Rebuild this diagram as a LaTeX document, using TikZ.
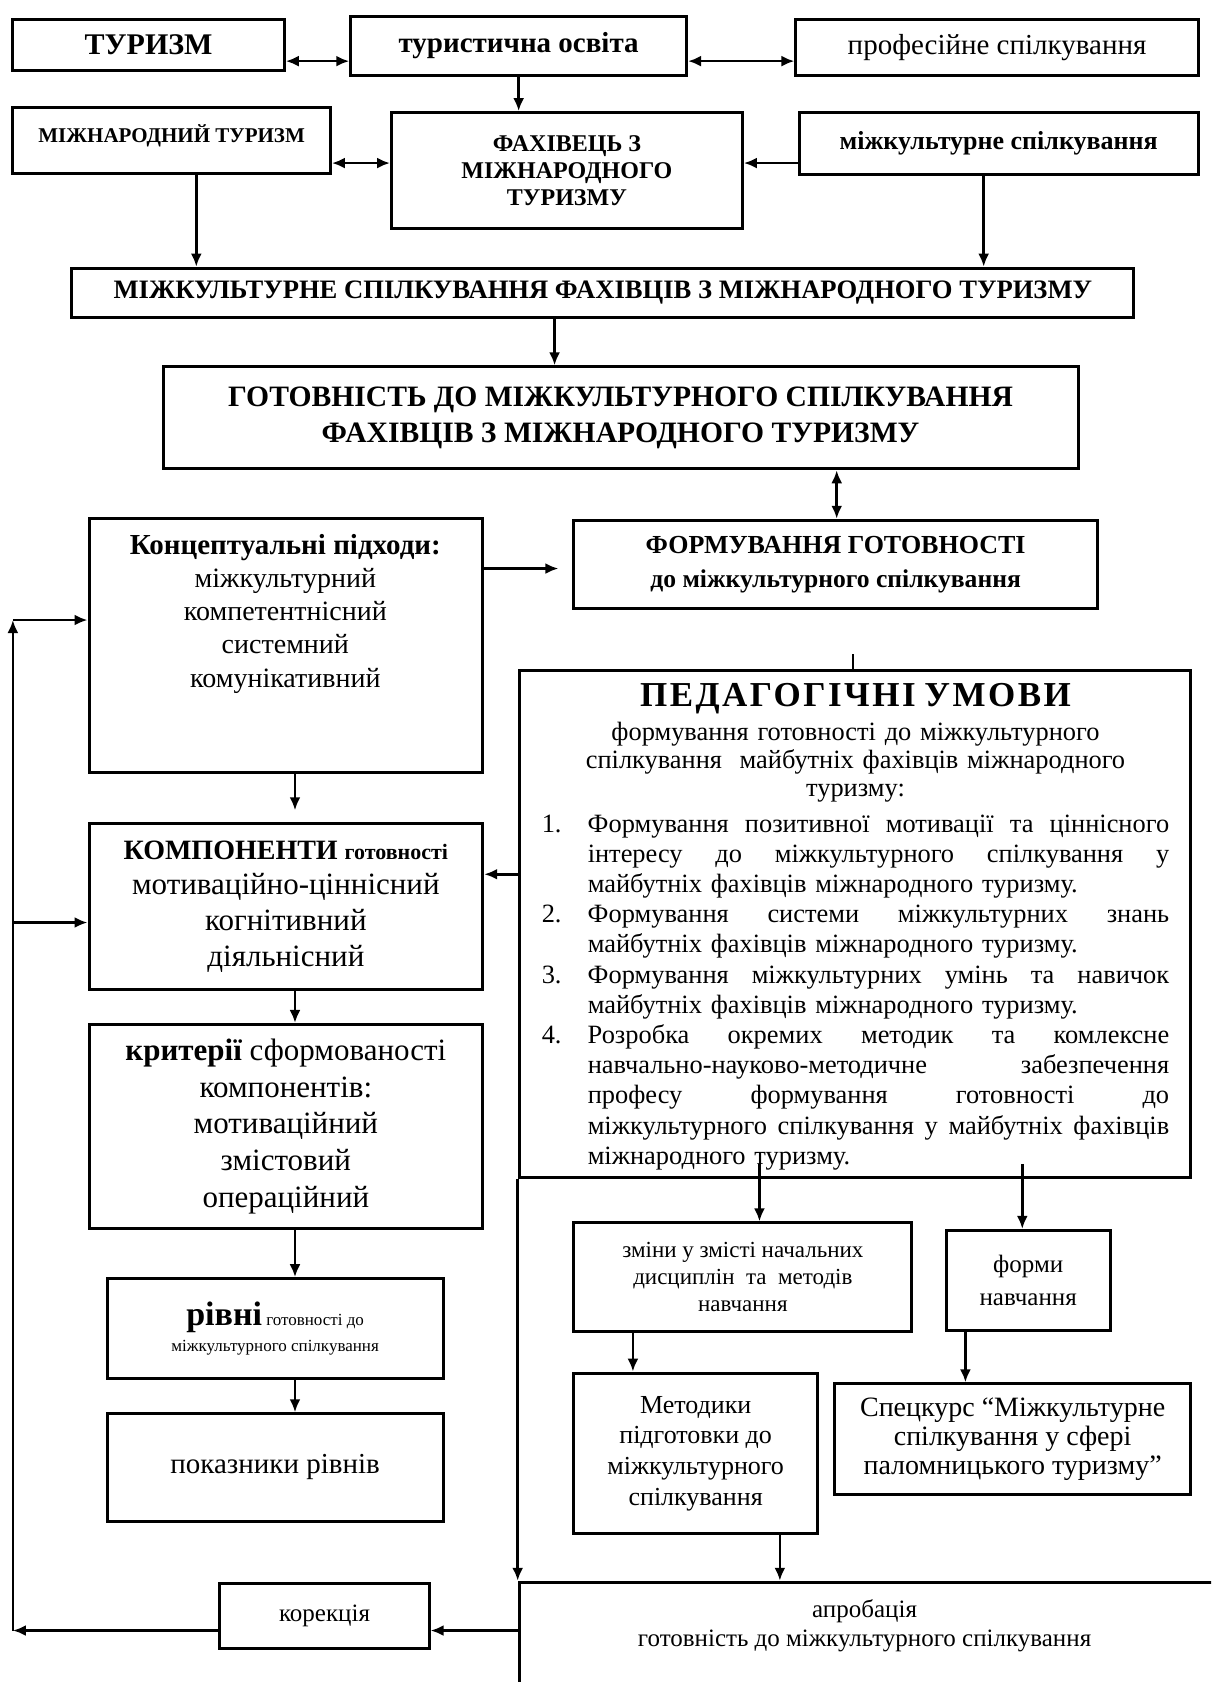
\documentclass[tikz,border=0pt]{standalone}
\usepackage{fontspec}
\setmainfont{Liberation Serif}
\usetikzlibrary{arrows.meta,calc}
\newcommand\myfs[2]{\fontsize{#1}{#2}\selectfont}
\newcommand\jline[1]{\hbox to 290.7pt{#1}}
\newcommand\gp{\hskip 0.15em plus 1fil\relax}
\tikzset{
  box/.style={draw, line width=1.5pt, inner sep=0pt, align=center},
  bx/.style n args={4}{box, minimum width={(#3-#1)*0.5363pt}, minimum height={(#4-#2)*0.5363pt}, at={({(#1+#3)/2},{(#2+#4)/2})}},
  arr/.style={line width=1.3pt, -{Latex[length=6.5pt,width=5.5pt]}},
  darr/.style={line width=1.3pt, {Latex[length=6.5pt,width=5.5pt]}-{Latex[length=6.5pt,width=5.5pt]}},
  ln/.style={line width=1.3pt},
}
\begin{document}
\begin{tikzpicture}[x=0.5363pt,y=-0.5363pt]
\useasboundingbox (0,0) rectangle (1129,1568);
\fill[white] (0,0) rectangle (1129,1568);

% helper coordinates
\coordinate (r1) at (0,57);
\coordinate (r2) at (0,152);
\coordinate (r3) at (0,530);
\coordinate (r4) at (0,815);
\coordinate (r5) at (0,578);
\coordinate (r6) at (0,860);
\coordinate (r7) at (0,1520);
\coordinate (pb) at (0,1085);
\coordinate (c1) at (183,0);
\coordinate (c2) at (917,0);
\coordinate (c3) at (517,0);
\coordinate (c4) at (780,0);
\coordinate (c5) at (275,0);
\coordinate (c6) at (708,0);
\coordinate (c7) at (953,0);
\coordinate (c8) at (590,0);
\coordinate (c9) at (900,0);
\coordinate (c10) at (727,0);
\coordinate (cL) at (12,0);
\coordinate (stub) at (795,610);

% row 1
\node[bx={12}{18}{265}{66}, font=\myfs{15}{17}\bfseries] (tur) {ТУРИЗМ};
\node[bx={327}{15}{640}{70}, font=\myfs{14.5}{17}\bfseries] (osv) {туристична освіта};
\node[bx={742}{18}{1117}{70}, font=\myfs{14.5}{17}] (prof) {професійне спілкування};
% row 2
\node[bx={12}{100}{308}{162}, font=\myfs{10.5}{12}\bfseries, text height=9pt, text depth=7pt] (mtur) {МІЖНАРОДНИЙ ТУРИЗМ};
\node[bx={365}{105}{692}{213}, font=\myfs{12}{13.6}\bfseries] (fah) {ФАХІВЕЦЬ З\\МІЖНАРОДНОГО\\ТУРИЗМУ};
\node[bx={745}{105}{1117}{163}, font=\myfs{13}{15}\bfseries] (mks) {міжкультурне спілкування};
% row 3
\node[bx={67}{250}{1057}{296}, font=\myfs{13.3}{15}\bfseries] (mksf) {МІЖКУЛЬТУРНЕ СПІЛКУВАННЯ ФАХІВЦІВ З МІЖНАРОДНОГО ТУРИЗМУ};
\node[bx={152}{342}{1005}{437}, font=\myfs{14.8}{18}\bfseries] (got) {ГОТОВНІСТЬ ДО МІЖКУЛЬТУРНОГО СПІЛКУВАННЯ\\ФАХІВЦІВ З МІЖНАРОДНОГО ТУРИЗМУ};

% left column
\node[bx={83}{483}{450}{720}] (conc) {};
\node[align=center, inner sep=0pt, font=\myfs{14}{16.6}] (conct) at (266,572)
  {{\bfseries\myfs{14.5}{18.5}Концептуальні підходи:}\\міжкультурний\\компетентнісний\\системний\\комунікативний};
\node[bx={83}{768}{450}{922}, font=\myfs{15.5}{17.8}] (komp)
  {{\bfseries\myfs{14}{17.8}КОМПОНЕНТИ {\myfs{11}{17.8}готовності}}\\мотиваційно-ціннісний\\когнітивний\\діяльнісний};
\node[bx={83}{955}{450}{1145}, font=\myfs{15.5}{18.4}] (krit)
  {{\bfseries критерії} сформованості\\компонентів:\\мотиваційний\\змістовий\\операційний};
\node[bx={100}{1192}{413}{1285}, font=\myfs{8.5}{13.4}] (rivni)
  {{\bfseries\myfs{17}{13.4}рівні} готовності до\\міжкультурного спілкування};
\node[bx={100}{1318}{413}{1418}, font=\myfs{14.5}{17}] (pokaz) {показники рівнів};
\node[bx={205}{1476}{400}{1537}, font=\myfs{12.5}{15}] (korr) {корекція};

% right column
\node[bx={535}{485}{1023}{567}, font=\bfseries\myfs{13}{17}] (form)
  {ФОРМУВАННЯ ГОТОВНОСТІ\\{\myfs{12.8}{17}до міжкультурного спілкування}};
\node[bx={484}{625}{1110}{1098}] (ped) {};
\node[align=left, text width=313.7pt, inner sep=0pt, font=\myfs{13.2}{14}] (pedt) at (797.5,864) {%
\makebox[\linewidth]{\bfseries\myfs{17.5}{18}\addfontfeatures{LetterSpace=7}ПЕДАГОГІЧНІ УМОВИ}\\[2.6pt]
\makebox[\linewidth]{формування готовності до міжкультурного}\\
\makebox[\linewidth]{спілкування\ \ майбутніх фахівців міжнародного}\\
\makebox[\linewidth]{туризму:}\\[4pt]
\makebox[23pt][l]{1.}\jline{Формування\gp позитивної\gp мотивації\gp та\gp ціннісного}\\[1.1pt]
\hspace*{23pt}\jline{інтересу\gp до\gp міжкультурного\gp спілкування\gp у}\\[1.1pt]
\hspace*{23pt}майбутніх фахівців міжнародного туризму.\\[1.1pt]
\makebox[23pt][l]{2.}\jline{Формування\gp системи\gp міжкультурних\gp знань}\\[1.1pt]
\hspace*{23pt}майбутніх фахівців міжнародного туризму.\\[1.1pt]
\makebox[23pt][l]{3.}\jline{Формування\gp міжкультурних\gp умінь\gp та\gp навичок}\\[1.1pt]
\hspace*{23pt}майбутніх фахівців міжнародного туризму.\\[1.1pt]
\makebox[23pt][l]{4.}\jline{Розробка\gp окремих\gp методик\gp та\gp комлексне}\\[1.1pt]
\hspace*{23pt}\jline{навчально-науково-методичне\gp забезпечення}\\[1.1pt]
\hspace*{23pt}\jline{професу\gp формування\gp готовності\gp до}\\[1.1pt]
\hspace*{23pt}\jline{міжкультурного\gp спілкування\gp у\gp майбутніх\gp фахівців}\\[1.1pt]
\hspace*{23pt}міжнародного туризму.};

\node[bx={535}{1140}{850}{1241}, font=\myfs{11.5}{13.4}] (zmin)
  {зміни у змісті начальних\\дисциплін\ \ та\ \ методів\\навчання};
\node[bx={882}{1147}{1035}{1240}, font=\myfs{12.5}{16.6}] (formy) {форми\\навчання};
\node[bx={535}{1280}{762}{1430}, font=\myfs{13}{15.3}] (metod)
  {Методики\\підготовки до\\міжкультурного\\спілкування};
\node[bx={778}{1290}{1110}{1393}, font=\myfs{14}{14.6}] (spec)
  {Спецкурс “Міжкультурне\\спілкування у сфері\\паломницького туризму”};
\begin{scope}
\clip (0,0) rectangle (1129,1568);
\node[bx={484}{1475}{1150}{1610}] (aprob) {};
\end{scope}
\node[align=center, inner sep=0pt, font=\myfs{12.5}{14.5}] (aprobt) at (806,1516)
  {апробація\\готовність до міжкультурного спілкування};

% connectors
\draw[darr] (tur.east |- r1) -- (osv.west |- r1);
\draw[darr] (prof.west |- r1) -- (osv.east |- r1);
\draw[arr] (osv.south) -- (osv.south |- fah.north);
\draw[darr] (mtur.east |- r2) -- (fah.west |- r2);
\draw[arr] (mks.west |- r2) -- (fah.east |- r2);
\draw[arr] (mtur.south -| c1) -- (mksf.north -| c1);
\draw[arr] (mks.south -| c2) -- (mksf.north -| c2);
\draw[arr] (mksf.south -| c3) -- (got.north -| c3);
\draw[darr] (got.south -| c4) -- (form.north -| c4);
\draw[arr, shorten >=7pt] (conc.east |- r3) -- (form.west |- r3);
\draw[ln] (ped.north -| stub) -- (stub);
\draw[arr] (ped.west |- r4) -- (komp.east |- r4);
\draw[arr, shorten >=6pt] (conc.south -| c5) -- (komp.north -| c5);
\draw[arr] (komp.south -| c5) -- (krit.north -| c5);
\draw[arr] (krit.south -| c5) -- (rivni.north -| c5);
\draw[arr] (rivni.south -| c5) -- (pokaz.north -| c5);
\draw[arr] (aprob.west |- r7) -- (korr.east |- r7);
\draw[arr] (korr.west |- r7) -- (cL |- r7);
\draw[arr] (cL |- r7) -- (cL |- r5);
\draw[arr] (cL |- r5) -- (conc.west |- r5);
\draw[arr] (cL |- r6) -- (komp.west |- r6);
\draw[arr] (ped.south west) -- (aprob.north west);
\draw[arr] (pb -| c6) -- (zmin.north -| c6);
\draw[arr] (pb -| c7) -- (formy.north -| c7);
\draw[arr] (zmin.south -| c8) -- (metod.north -| c8);
\draw[arr] (formy.south -| c9) -- (spec.north -| c9);
\draw[arr] (metod.south -| c10) -- (aprob.north -| c10);
\end{tikzpicture}
\end{document}
